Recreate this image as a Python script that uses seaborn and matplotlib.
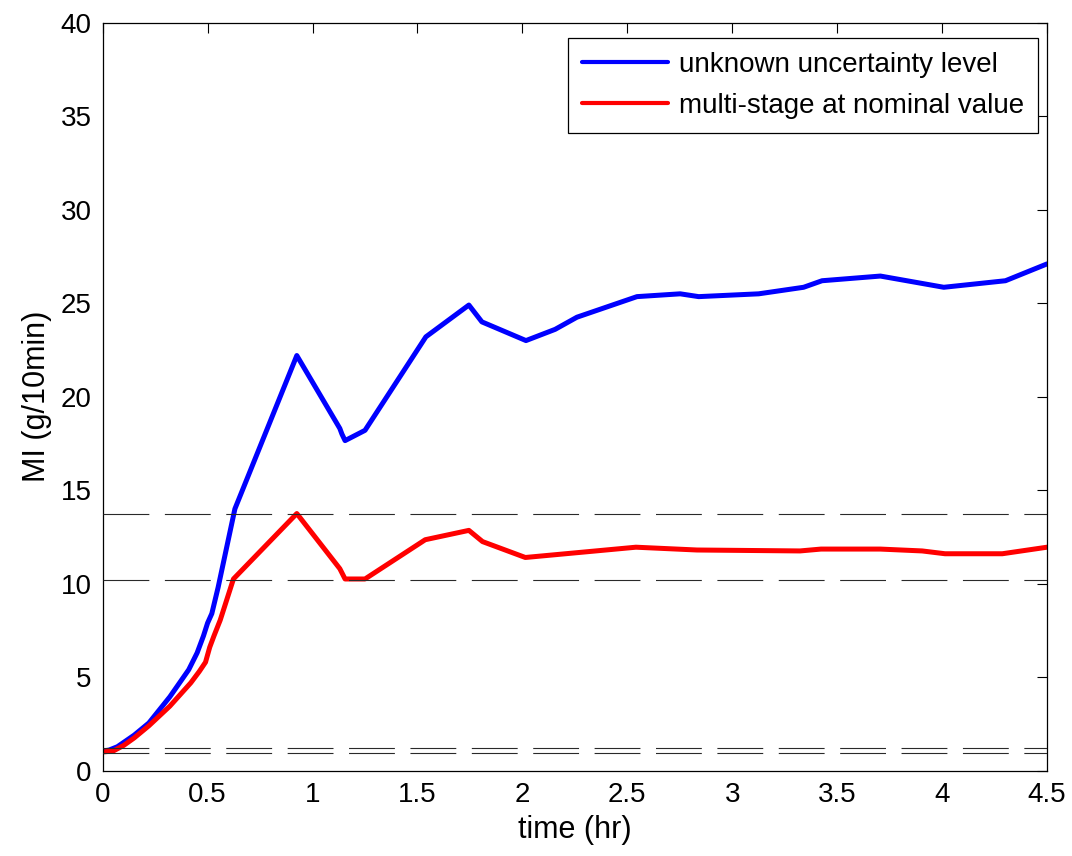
import matplotlib
matplotlib.use("Agg")
import matplotlib.pyplot as plt
import numpy as np
import pandas as pd
import seaborn as sns

# ---- data ----
time_blue = [0, 0.03, 0.07, 0.15, 0.22, 0.32, 0.41, 0.45, 0.48, 0.50, 0.52, 0.55, 0.59, 0.63,
             0.925, 1.13, 1.14, 1.155, 1.25, 1.54, 1.745, 1.807, 2.017, 2.156, 2.26, 2.546,
             2.752, 2.84, 3.126, 3.34, 3.428, 3.706, 4.008, 4.302, 4.5]
mi_blue = [1.05, 1.1, 1.28, 1.9, 2.55, 3.95, 5.4, 6.3, 7.2, 7.9, 8.4, 9.8, 11.9, 14.0,
           22.2, 18.3, 18.0, 17.65, 18.2, 23.2, 24.9, 24.0, 23.0, 23.6, 24.25, 25.35,
           25.5, 25.35, 25.5, 25.85, 26.2, 26.45, 25.85, 26.2, 27.1]

time_red = [0, 0.05, 0.1, 0.15, 0.22, 0.32, 0.42, 0.46, 0.49, 0.51, 0.53, 0.56, 0.623,
            0.925, 1.13, 1.155, 1.25, 1.537, 1.745, 1.81, 2.014, 2.541, 2.832, 3.323,
            3.423, 3.705, 3.905, 4.014, 4.287, 4.5]
mi_red = [1.0, 1.05, 1.35, 1.75, 2.4, 3.45, 4.7, 5.3, 5.8, 6.6, 7.2, 8.05, 10.25,
          13.75, 10.8, 10.25, 10.25, 12.35, 12.85, 12.25, 11.4, 11.95, 11.8, 11.75,
          11.85, 11.85, 11.75, 11.6, 11.6, 11.95]

series_labels = ["unknown uncertainty level", "multi-stage at nominal value"]
series_colors = ["#0000FF", "#FF0000"]
bound_levels = [13.72, 10.2, 1.2, 0.92]

x_ticks = [0, 0.5, 1, 1.5, 2, 2.5, 3, 3.5, 4, 4.5]
x_tick_labels = ["0", "0.5", "1", "1.5", "2", "2.5", "3", "3.5", "4", "4.5"]
y_ticks = [0, 5, 10, 15, 20, 25, 30, 35, 40]
y_tick_labels = ["0", "5", "10", "15", "20", "25", "30", "35", "40"]
x_label = "time (hr)"
y_label = "MI (g/10min)"

# ---- style ----
sns.set_theme(style="white")
plt.rcParams["font.family"] = ["Liberation Sans", "DejaVu Sans"]
plt.rcParams["lines.scale_dashes"] = False
plt.rcParams["text.color"] = "black"
plt.rcParams["axes.labelcolor"] = "black"
plt.rcParams["xtick.color"] = "black"
plt.rcParams["ytick.color"] = "black"

fig = plt.figure(figsize=(10.72, 8.56), dpi=100)
ax = fig.add_axes([0.0958, 0.0997, 0.8809, 0.8738])

df = pd.concat([
    pd.DataFrame({"time": time_blue, "MI": mi_blue, "series": series_labels[0]}),
    pd.DataFrame({"time": time_red, "MI": mi_red, "series": series_labels[1]}),
], ignore_index=True)

sns.lineplot(data=df, x="time", y="MI", hue="series", hue_order=series_labels,
             palette=dict(zip(series_labels, series_colors)),
             sort=False, estimator=None, linewidth=3.6, ax=ax, legend=True)

for lvl in bound_levels:
    ax.axhline(lvl, color="#2a2a2a", linewidth=0.8,
               linestyle=(0, (33.0, 11.2)), zorder=3)

ax.set_xlim(0, 4.5)
ax.set_ylim(0, 40)
ax.set_xticks(x_ticks)
ax.set_xticklabels(x_tick_labels)
ax.set_yticks(y_ticks)
ax.set_yticklabels(y_tick_labels)
ax.tick_params(direction="in", length=7, width=0.8, top=True, right=True,
               labelsize=20, pad=8, colors="black")
for sp in ax.spines.values():
    sp.set_visible(True)
    sp.set_color("black")
    sp.set_linewidth(0.9)
ax.grid(False)

ax.set_xlabel(x_label, fontsize=22, color="black")
ax.set_ylabel(y_label, fontsize=22, color="black")
ax.xaxis.set_label_coords(0.5, -0.059)
ax.yaxis.set_label_coords(-0.054, 0.5)

handles, labels = ax.get_legend_handles_labels()
leg = ax.legend(handles, labels, loc="upper right", bbox_to_anchor=(0.9905, 0.9795),
                borderaxespad=0, fontsize=20, frameon=True, fancybox=False,
                framealpha=1, edgecolor="black", handlelength=3.1, handletextpad=0.4,
                borderpad=0.5, labelspacing=0.55)
leg.get_frame().set_linewidth(0.9)
for txt in leg.get_texts():
    txt.set_color("black")
for ln in leg.get_lines():
    ln.set_linewidth(3.0)

fig.savefig("out.png", dpi=100)
